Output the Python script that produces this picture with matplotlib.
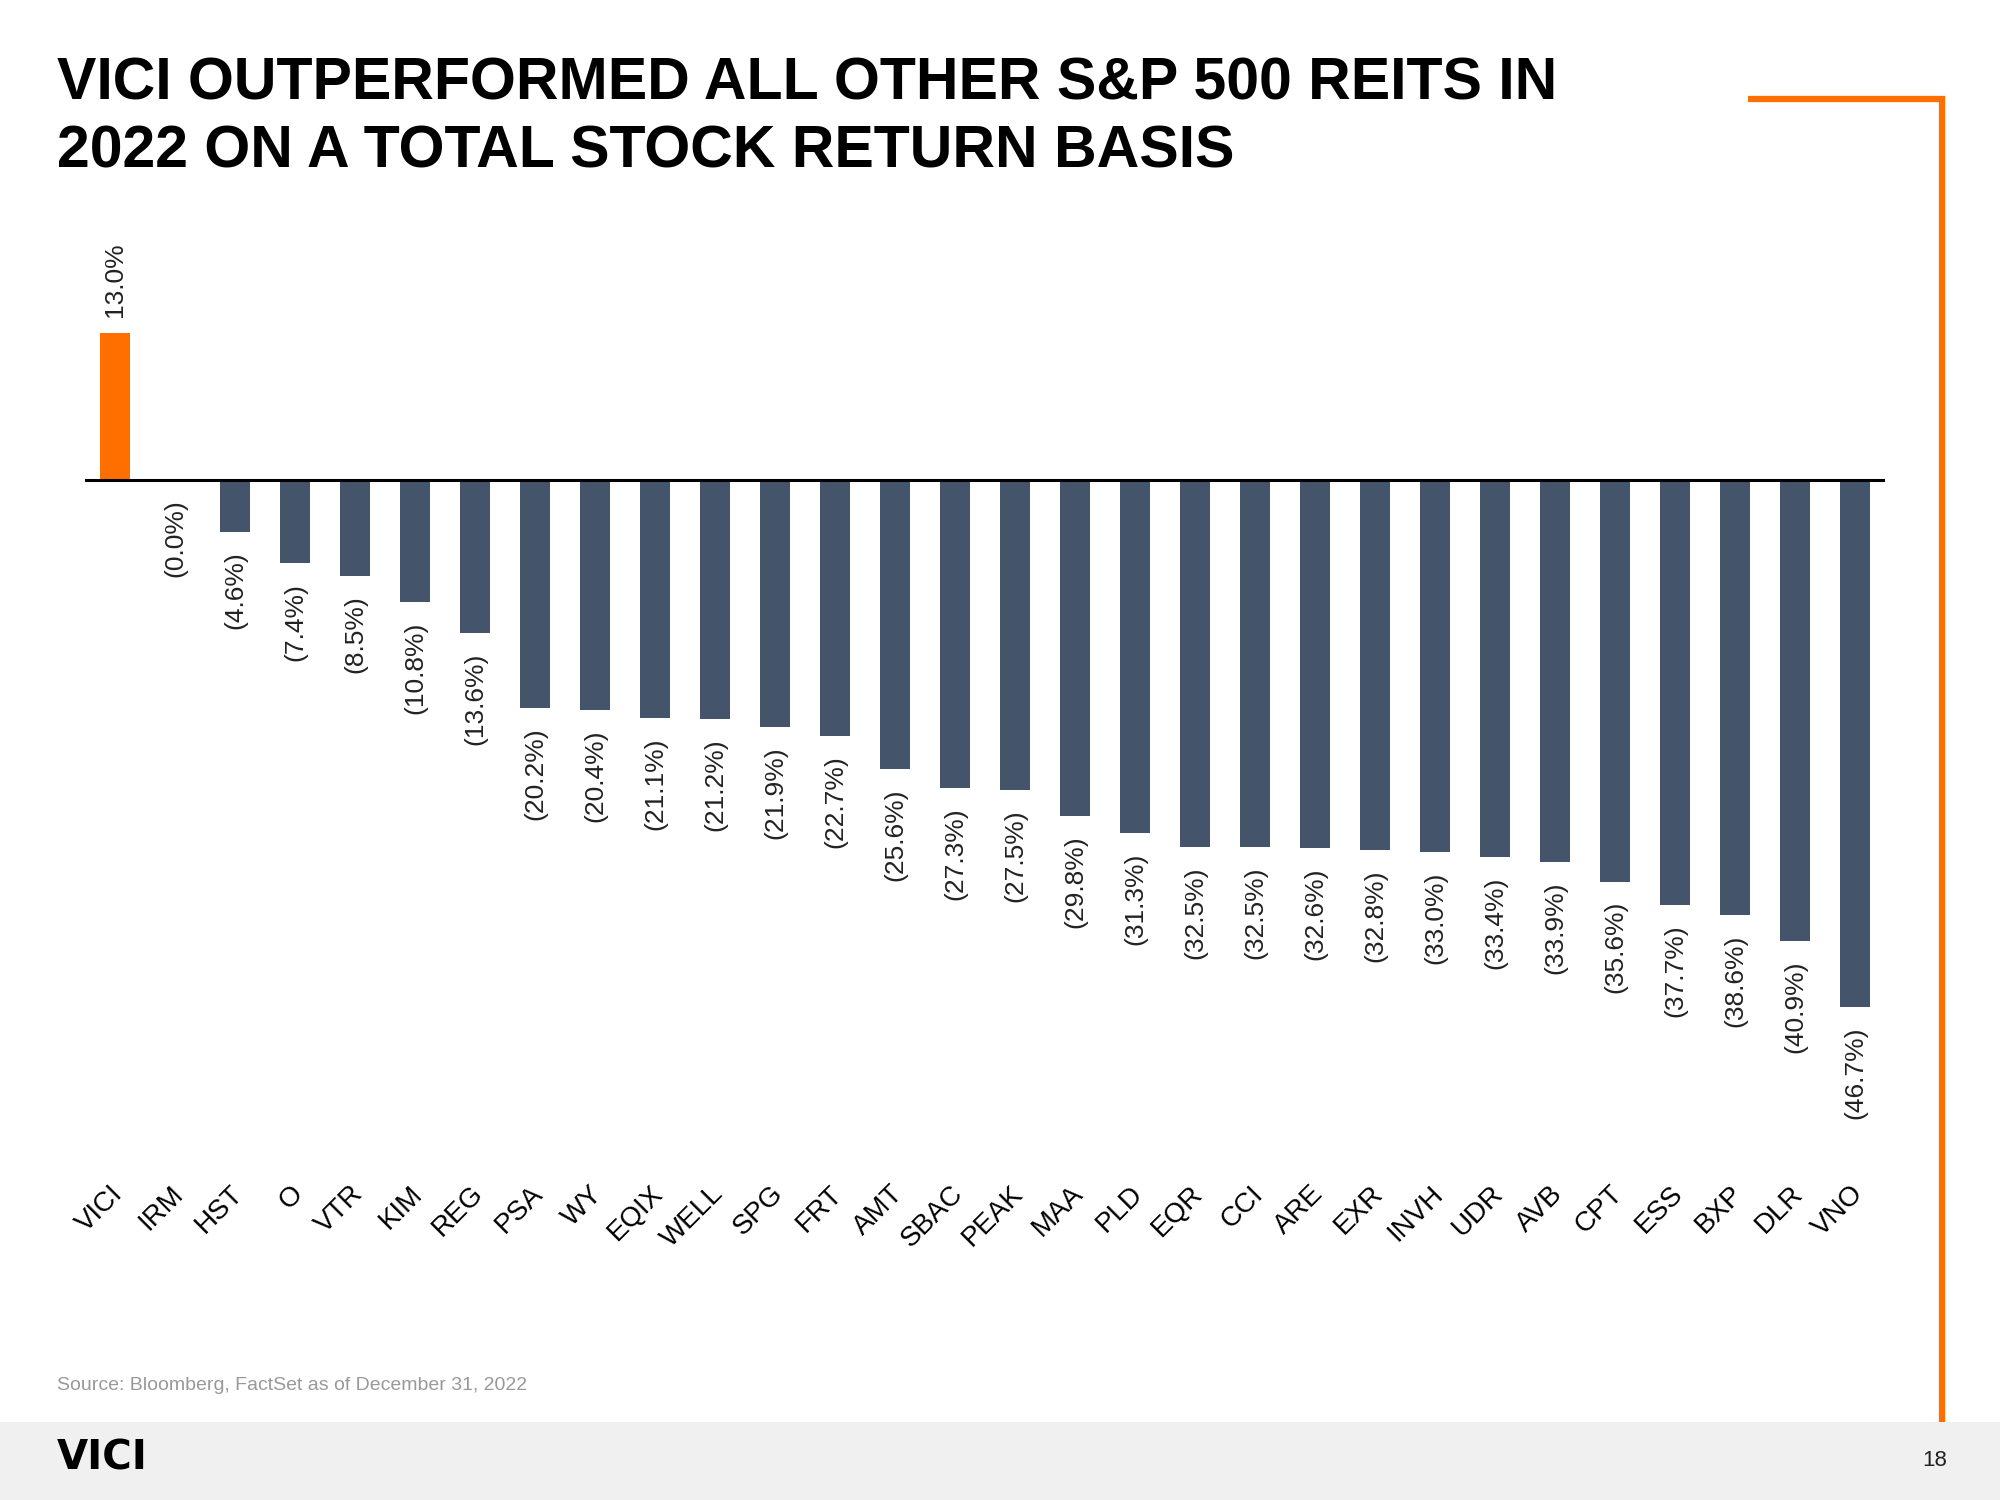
import matplotlib
matplotlib.use("Agg")
import matplotlib.pyplot as plt
from matplotlib.lines import Line2D
from matplotlib.patches import Rectangle

tickers = ["VICI", "IRM", "HST", "O", "VTR", "KIM", "REG", "PSA", "WY", "EQIX",
           "WELL", "SPG", "FRT", "AMT", "SBAC", "PEAK", "MAA", "PLD", "EQR", "CCI",
           "ARE", "EXR", "INVH", "UDR", "AVB", "CPT", "ESS", "BXP", "DLR", "VNO"]
returns = [13.0, 0.0, -4.6, -7.4, -8.5, -10.8, -13.6, -20.2, -20.4, -21.1,
           -21.2, -21.9, -22.7, -25.6, -27.3, -27.5, -29.8, -31.3, -32.5, -32.5,
           -32.6, -32.8, -33.0, -33.4, -33.9, -35.6, -37.7, -38.6, -40.9, -46.7]

title_lines = ["VICI OUTPERFORMED ALL OTHER S&P 500 REITS IN",
               "2022 ON A TOTAL STOCK RETURN BASIS"]
source = "Source: Bloomberg, FactSet as of December 31, 2022"
page = "18"

ORANGE = "#FF6F00"
SLATE = "#44546A"
SANS = ["Liberation Sans", "DejaVu Sans"]

W, H = 2000, 1500
fig = plt.figure(figsize=(20, 15), dpi=100)

def fx(px):
    return px / W

def fy(py):
    return 1 - py / H

ax = fig.add_axes([fx(85), fy(1190), fx(1885) - fx(85), fy(200) - fy(1190)])
ax.set_xlim(-0.5, len(tickers) - 0.5)
ax.set_ylim(-62.94, 24.82)
ax.axis("off")

x = list(range(len(tickers)))
colors = [ORANGE if i == 0 else SLATE for i in x]
ax.bar(x, returns, width=0.5, color=colors, zorder=2)
ax.axhline(0, color="black", lw=2.2, zorder=3)

for i, v in zip(x, returns):
    if v > 0:
        lab = f"{v:.1f}%"
        ax.annotate(lab, (i, v), xytext=(0, 12), textcoords="offset points",
                    rotation=90, ha="center", va="bottom", fontsize=19,
                    family=SANS, color="#222222")
    else:
        lab = f"({abs(v):.1f}%)"
        ax.annotate(lab, (i, v), xytext=(0, -14), textcoords="offset points",
                    rotation=90, ha="center", va="top", fontsize=19,
                    family=SANS, color="#222222")

trans = matplotlib.transforms.blended_transform_factory(ax.transData, fig.transFigure)
for i, t in zip(x, tickers):
    ax.annotate(t, (i, fy(1190)), xycoords=trans, xytext=(4, 0), textcoords="offset pixels",
                rotation=45, rotation_mode="anchor", ha="right", va="center",
                fontsize=20, family=SANS, color="black")

for k, line in enumerate(title_lines):
    fig.text(fx(57), fy(99 + 69 * k), line, fontsize=42.5, fontweight="bold",
             family=SANS, color="black", ha="left", va="baseline")

fig.add_artist(Line2D([fx(1748), fx(1945)], [fy(99), fy(99)], color=ORANGE, lw=4.5,
                      solid_capstyle="butt"))
fig.add_artist(Line2D([fx(1942), fx(1942)], [fy(96), fy(1422)], color=ORANGE, lw=4.5,
                      solid_capstyle="butt"))

fig.add_artist(Rectangle((0, 0), 1, fy(1422), transform=fig.transFigure,
                         facecolor="#F0F0F0", edgecolor="none", zorder=0))
fig.text(fx(57), fy(1385), source, fontsize=14, family=SANS, color="#999999",
         ha="left", va="center")
fig.text(fx(57), fy(1459), "VICI", fontsize=29, fontweight="bold",
         family="DejaVu Sans", color="black", ha="left", va="center")
fig.text(fx(1935), fy(1461), page, fontsize=16, family=SANS, color="#222222",
         ha="center", va="center")

fig.savefig("out.png", dpi=100, facecolor="white")
